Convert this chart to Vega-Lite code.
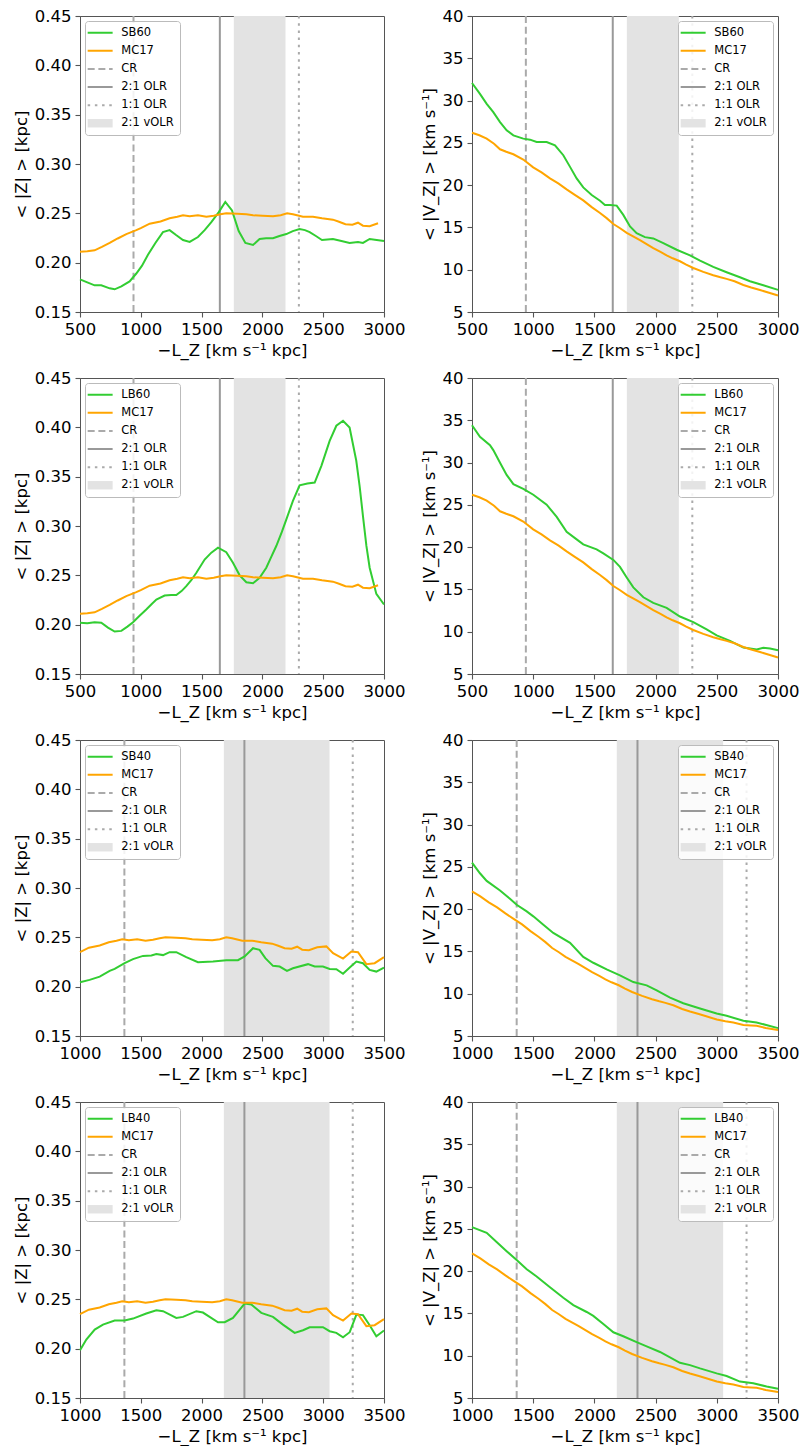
{
  "$schema": "https://vega.github.io/schema/vega-lite/v6.json",
  "background": "white",
  "padding": {"left": 12, "top": 7, "right": 5, "bottom": 5},
  "datasets": {
    "res": [
      {"set": "60", "s": "CR", "x": 940},
      {"set": "60", "s": "2:1 OLR", "x": 1650},
      {"set": "60", "s": "1:1 OLR", "x": 2300},
      {"set": "60", "s": "2:1 vOLR", "x": 1765, "x2": 2190},
      {"set": "40", "s": "CR", "x": 1365},
      {"set": "40", "s": "2:1 OLR", "x": 2352},
      {"set": "40", "s": "1:1 OLR", "x": 3243},
      {"set": "40", "s": "2:1 vOLR", "x": 2183, "x2": 3052}
    ],
    "z": [
      {"s":"SB60","x":500,"y":0.183},{"s":"SB60","x":560,"y":0.180},{"s":"SB60","x":620,"y":0.177},{"s":"SB60","x":675,"y":0.177},{"s":"SB60","x":744,"y":0.174},{"s":"SB60","x":785,"y":0.173},{"s":"SB60","x":840,"y":0.176},{"s":"SB60","x":908,"y":0.181},{"s":"SB60","x":963,"y":0.189},{"s":"SB60","x":1010,"y":0.197},{"s":"SB60","x":1059,"y":0.208},{"s":"SB60","x":1120,"y":0.220},{"s":"SB60","x":1182,"y":0.231},{"s":"SB60","x":1237,"y":0.233},{"s":"SB60","x":1290,"y":0.228},{"s":"SB60","x":1347,"y":0.223},{"s":"SB60","x":1402,"y":0.221},{"s":"SB60","x":1470,"y":0.226},{"s":"SB60","x":1525,"y":0.233},{"s":"SB60","x":1580,"y":0.241},{"s":"SB60","x":1640,"y":0.251},{"s":"SB60","x":1695,"y":0.2615},{"s":"SB60","x":1750,"y":0.253},{"s":"SB60","x":1805,"y":0.232},{"s":"SB60","x":1860,"y":0.220},{"s":"SB60","x":1923,"y":0.218},{"s":"SB60","x":1977,"y":0.224},{"s":"SB60","x":2030,"y":0.2247},{"s":"SB60","x":2087,"y":0.2247},{"s":"SB60","x":2140,"y":0.227},{"s":"SB60","x":2197,"y":0.229},{"s":"SB60","x":2250,"y":0.232},{"s":"SB60","x":2306,"y":0.234},{"s":"SB60","x":2350,"y":0.233},{"s":"SB60","x":2389,"y":0.231},{"s":"SB60","x":2440,"y":0.227},{"s":"SB60","x":2490,"y":0.223},{"s":"SB60","x":2535,"y":0.2235},{"s":"SB60","x":2580,"y":0.224},{"s":"SB60","x":2650,"y":0.222},{"s":"SB60","x":2717,"y":0.220},{"s":"SB60","x":2786,"y":0.221},{"s":"SB60","x":2827,"y":0.220},{"s":"SB60","x":2882,"y":0.224},{"s":"SB60","x":2940,"y":0.223},{"s":"SB60","x":3000,"y":0.222},
      {"s":"LB60","x":500,"y":0.202},{"s":"LB60","x":560,"y":0.2015},{"s":"LB60","x":620,"y":0.2025},{"s":"LB60","x":675,"y":0.202},{"s":"LB60","x":730,"y":0.197},{"s":"LB60","x":785,"y":0.193},{"s":"LB60","x":840,"y":0.1937},{"s":"LB60","x":890,"y":0.198},{"s":"LB60","x":936,"y":0.2025},{"s":"LB60","x":990,"y":0.209},{"s":"LB60","x":1045,"y":0.2153},{"s":"LB60","x":1090,"y":0.221},{"s":"LB60","x":1128,"y":0.2255},{"s":"LB60","x":1196,"y":0.2295},{"s":"LB60","x":1250,"y":0.230},{"s":"LB60","x":1292,"y":0.230},{"s":"LB60","x":1335,"y":0.234},{"s":"LB60","x":1374,"y":0.239},{"s":"LB60","x":1415,"y":0.245},{"s":"LB60","x":1457,"y":0.2526},{"s":"LB60","x":1525,"y":0.266},{"s":"LB60","x":1580,"y":0.273},{"s":"LB60","x":1635,"y":0.278},{"s":"LB60","x":1703,"y":0.2735},{"s":"LB60","x":1758,"y":0.2627},{"s":"LB60","x":1813,"y":0.250},{"s":"LB60","x":1868,"y":0.243},{"s":"LB60","x":1923,"y":0.242},{"s":"LB60","x":1977,"y":0.2475},{"s":"LB60","x":2032,"y":0.2577},{"s":"LB60","x":2070,"y":0.268},{"s":"LB60","x":2114,"y":0.2797},{"s":"LB60","x":2160,"y":0.294},{"s":"LB60","x":2197,"y":0.3068},{"s":"LB60","x":2251,"y":0.3254},{"s":"LB60","x":2306,"y":0.3413},{"s":"LB60","x":2370,"y":0.343},{"s":"LB60","x":2430,"y":0.344},{"s":"LB60","x":2485,"y":0.361},{"s":"LB60","x":2553,"y":0.3863},{"s":"LB60","x":2608,"y":0.4016},{"s":"LB60","x":2663,"y":0.4067},{"s":"LB60","x":2717,"y":0.3999},{"s":"LB60","x":2772,"y":0.3661},{"s":"LB60","x":2800,"y":0.340},{"s":"LB60","x":2827,"y":0.3101},{"s":"LB60","x":2855,"y":0.280},{"s":"LB60","x":2882,"y":0.2577},{"s":"LB60","x":2937,"y":0.2312},{"s":"LB60","x":3000,"y":0.2204},
      {"s":"SB40","x":1000,"y":0.2045},{"s":"SB40","x":1079,"y":0.2069},{"s":"SB40","x":1162,"y":0.2102},{"s":"SB40","x":1244,"y":0.216},{"s":"SB40","x":1285,"y":0.218},{"s":"SB40","x":1367,"y":0.2238},{"s":"SB40","x":1436,"y":0.2279},{"s":"SB40","x":1518,"y":0.2312},{"s":"SB40","x":1587,"y":0.2316},{"s":"SB40","x":1628,"y":0.233},{"s":"SB40","x":1683,"y":0.232},{"s":"SB40","x":1737,"y":0.235},{"s":"SB40","x":1792,"y":0.235},{"s":"SB40","x":1874,"y":0.2299},{"s":"SB40","x":1970,"y":0.2248},{"s":"SB40","x":2094,"y":0.2255},{"s":"SB40","x":2203,"y":0.2268},{"s":"SB40","x":2299,"y":0.2268},{"s":"SB40","x":2354,"y":0.2306},{"s":"SB40","x":2423,"y":0.239},{"s":"SB40","x":2477,"y":0.2373},{"s":"SB40","x":2524,"y":0.2289},{"s":"SB40","x":2587,"y":0.2211},{"s":"SB40","x":2642,"y":0.2204},{"s":"SB40","x":2702,"y":0.216},{"s":"SB40","x":2751,"y":0.2187},{"s":"SB40","x":2875,"y":0.2228},{"s":"SB40","x":2930,"y":0.2204},{"s":"SB40","x":2998,"y":0.2204},{"s":"SB40","x":3053,"y":0.218},{"s":"SB40","x":3108,"y":0.2177},{"s":"SB40","x":3163,"y":0.213},{"s":"SB40","x":3218,"y":0.2194},{"s":"SB40","x":3273,"y":0.2255},{"s":"SB40","x":3327,"y":0.2238},{"s":"SB40","x":3382,"y":0.217},{"s":"SB40","x":3437,"y":0.2153},{"s":"SB40","x":3500,"y":0.2194},
      {"s":"LB40","x":1000,"y":0.1984},{"s":"LB40","x":1052,"y":0.2092},{"s":"LB40","x":1121,"y":0.2194},{"s":"LB40","x":1189,"y":0.2244},{"s":"LB40","x":1285,"y":0.2285},{"s":"LB40","x":1367,"y":0.2285},{"s":"LB40","x":1436,"y":0.2305},{"s":"LB40","x":1545,"y":0.2356},{"s":"LB40","x":1628,"y":0.239},{"s":"LB40","x":1683,"y":0.238},{"s":"LB40","x":1792,"y":0.2312},{"s":"LB40","x":1847,"y":0.2322},{"s":"LB40","x":1957,"y":0.238},{"s":"LB40","x":2011,"y":0.2366},{"s":"LB40","x":2135,"y":0.2268},{"s":"LB40","x":2190,"y":0.2268},{"s":"LB40","x":2258,"y":0.2312},{"s":"LB40","x":2354,"y":0.2457},{"s":"LB40","x":2409,"y":0.2447},{"s":"LB40","x":2491,"y":0.2363},{"s":"LB40","x":2587,"y":0.2322},{"s":"LB40","x":2669,"y":0.2244},{"s":"LB40","x":2765,"y":0.216},{"s":"LB40","x":2834,"y":0.2187},{"s":"LB40","x":2889,"y":0.2217},{"s":"LB40","x":2998,"y":0.2217},{"s":"LB40","x":3053,"y":0.2177},{"s":"LB40","x":3108,"y":0.216},{"s":"LB40","x":3163,"y":0.2116},{"s":"LB40","x":3218,"y":0.2167},{"s":"LB40","x":3273,"y":0.2346},{"s":"LB40","x":3327,"y":0.234},{"s":"LB40","x":3382,"y":0.2238},{"s":"LB40","x":3437,"y":0.2126},{"s":"LB40","x":3500,"y":0.2184},
      {"s":"MC17","x":500,"y":0.211},{"s":"MC17","x":560,"y":0.2115},{"s":"MC17","x":620,"y":0.2125},{"s":"MC17","x":680,"y":0.216},{"s":"MC17","x":744,"y":0.220},{"s":"MC17","x":810,"y":0.2245},{"s":"MC17","x":881,"y":0.229},{"s":"MC17","x":963,"y":0.233},{"s":"MC17","x":1000,"y":0.235},{"s":"MC17","x":1073,"y":0.2395},{"s":"MC17","x":1162,"y":0.2417},{"s":"MC17","x":1237,"y":0.245},{"s":"MC17","x":1300,"y":0.2465},{"s":"MC17","x":1347,"y":0.248},{"s":"MC17","x":1402,"y":0.247},{"s":"MC17","x":1470,"y":0.248},{"s":"MC17","x":1539,"y":0.2465},{"s":"MC17","x":1600,"y":0.2475},{"s":"MC17","x":1655,"y":0.249},{"s":"MC17","x":1703,"y":0.250},{"s":"MC17","x":1792,"y":0.2495},{"s":"MC17","x":1868,"y":0.249},{"s":"MC17","x":1923,"y":0.248},{"s":"MC17","x":2000,"y":0.2475},{"s":"MC17","x":2087,"y":0.247},{"s":"MC17","x":2150,"y":0.248},{"s":"MC17","x":2203,"y":0.250},{"s":"MC17","x":2251,"y":0.249},{"s":"MC17","x":2334,"y":0.2466},{"s":"MC17","x":2416,"y":0.2466},{"s":"MC17","x":2490,"y":0.245},{"s":"MC17","x":2580,"y":0.2436},{"s":"MC17","x":2630,"y":0.2415},{"s":"MC17","x":2683,"y":0.239},{"s":"MC17","x":2740,"y":0.2385},{"s":"MC17","x":2786,"y":0.2405},{"s":"MC17","x":2827,"y":0.2375},{"s":"MC17","x":2882,"y":0.237},{"s":"MC17","x":2951,"y":0.240},{"s":"MC17","x":3026,"y":0.2408},{"s":"MC17","x":3081,"y":0.234},{"s":"MC17","x":3163,"y":0.2285},{"s":"MC17","x":3232,"y":0.2357},{"s":"MC17","x":3286,"y":0.235},{"s":"MC17","x":3355,"y":0.2228},{"s":"MC17","x":3423,"y":0.2238},{"s":"MC17","x":3500,"y":0.2299}
    ],
    "vz": [
      {"s":"SB60","x":500,"y":32.08},{"s":"SB60","x":565,"y":30.79},{"s":"SB60","x":620,"y":29.61},{"s":"SB60","x":674,"y":28.63},{"s":"SB60","x":729,"y":27.46},{"s":"SB60","x":783,"y":26.48},{"s":"SB60","x":838,"y":25.89},{"s":"SB60","x":919,"y":25.5},{"s":"SB60","x":974,"y":25.38},{"s":"SB60","x":1028,"y":25.1},{"s":"SB60","x":1110,"y":25.1},{"s":"SB60","x":1178,"y":24.71},{"s":"SB60","x":1246,"y":23.54},{"s":"SB60","x":1301,"y":22.16},{"s":"SB60","x":1355,"y":20.79},{"s":"SB60","x":1409,"y":19.73},{"s":"SB60","x":1478,"y":18.83},{"s":"SB60","x":1546,"y":18.16},{"s":"SB60","x":1586,"y":17.66},{"s":"SB60","x":1627,"y":17.66},{"s":"SB60","x":1682,"y":17.58},{"s":"SB60","x":1736,"y":16.48},{"s":"SB60","x":1791,"y":15.11},{"s":"SB60","x":1845,"y":14.32},{"s":"SB60","x":1913,"y":13.85},{"s":"SB60","x":1981,"y":13.7},{"s":"SB60","x":2063,"y":13.15},{"s":"SB60","x":2172,"y":12.36},{"s":"SB60","x":2281,"y":11.7},{"s":"SB60","x":2363,"y":11.07},{"s":"SB60","x":2471,"y":10.33},{"s":"SB60","x":2580,"y":9.7},{"s":"SB60","x":2689,"y":9.11},{"s":"SB60","x":2771,"y":8.64},{"s":"SB60","x":2880,"y":8.17},{"s":"SB60","x":3000,"y":7.62},
      {"s":"LB60","x":500,"y":34.41},{"s":"LB60","x":565,"y":33.04},{"s":"LB60","x":647,"y":32.06},{"s":"LB60","x":674,"y":31.47},{"s":"LB60","x":729,"y":29.99},{"s":"LB60","x":783,"y":28.54},{"s":"LB60","x":838,"y":27.45},{"s":"LB60","x":919,"y":26.9},{"s":"LB60","x":1001,"y":26.2},{"s":"LB60","x":1110,"y":25.02},{"s":"LB60","x":1192,"y":23.57},{"s":"LB60","x":1273,"y":21.81},{"s":"LB60","x":1355,"y":20.92},{"s":"LB60","x":1409,"y":20.33},{"s":"LB60","x":1518,"y":19.74},{"s":"LB60","x":1573,"y":19.27},{"s":"LB60","x":1655,"y":18.49},{"s":"LB60","x":1709,"y":17.67},{"s":"LB60","x":1764,"y":16.42},{"s":"LB60","x":1818,"y":15.24},{"s":"LB60","x":1900,"y":14.07},{"s":"LB60","x":1981,"y":13.41},{"s":"LB60","x":2090,"y":12.82},{"s":"LB60","x":2199,"y":11.8},{"s":"LB60","x":2308,"y":11.14},{"s":"LB60","x":2417,"y":10.28},{"s":"LB60","x":2499,"y":9.57},{"s":"LB60","x":2608,"y":8.91},{"s":"LB60","x":2717,"y":8.13},{"s":"LB60","x":2826,"y":7.89},{"s":"LB60","x":2880,"y":8.09},{"s":"LB60","x":2935,"y":8.01},{"s":"LB60","x":3000,"y":7.81},
      {"s":"SB40","x":1000,"y":25.5},{"s":"SB40","x":1065,"y":24.24},{"s":"SB40","x":1120,"y":23.34},{"s":"SB40","x":1229,"y":22.2},{"s":"SB40","x":1310,"y":21.22},{"s":"SB40","x":1365,"y":20.52},{"s":"SB40","x":1447,"y":19.73},{"s":"SB40","x":1501,"y":19.15},{"s":"SB40","x":1583,"y":18.16},{"s":"SB40","x":1664,"y":17.19},{"s":"SB40","x":1801,"y":16.01},{"s":"SB40","x":1909,"y":14.36},{"s":"SB40","x":1991,"y":13.66},{"s":"SB40","x":2100,"y":12.87},{"s":"SB40","x":2209,"y":12.17},{"s":"SB40","x":2318,"y":11.38},{"s":"SB40","x":2427,"y":10.99},{"s":"SB40","x":2509,"y":10.4},{"s":"SB40","x":2618,"y":9.54},{"s":"SB40","x":2726,"y":8.88},{"s":"SB40","x":2863,"y":8.25},{"s":"SB40","x":2999,"y":7.66},{"s":"SB40","x":3080,"y":7.39},{"s":"SB40","x":3217,"y":6.8},{"s":"SB40","x":3325,"y":6.6},{"s":"SB40","x":3500,"y":5.93},
      {"s":"LB40","x":1000,"y":25.2},{"s":"LB40","x":1120,"y":24.54},{"s":"LB40","x":1201,"y":23.45},{"s":"LB40","x":1283,"y":22.36},{"s":"LB40","x":1365,"y":21.31},{"s":"LB40","x":1447,"y":20.23},{"s":"LB40","x":1528,"y":19.37},{"s":"LB40","x":1637,"y":18.09},{"s":"LB40","x":1746,"y":16.85},{"s":"LB40","x":1828,"y":15.99},{"s":"LB40","x":1937,"y":15.17},{"s":"LB40","x":1991,"y":14.71},{"s":"LB40","x":2073,"y":13.74},{"s":"LB40","x":2155,"y":12.77},{"s":"LB40","x":2236,"y":12.3},{"s":"LB40","x":2345,"y":11.6},{"s":"LB40","x":2427,"y":11.1},{"s":"LB40","x":2536,"y":10.44},{"s":"LB40","x":2699,"y":9.16},{"s":"LB40","x":2781,"y":8.89},{"s":"LB40","x":2863,"y":8.5},{"s":"LB40","x":2999,"y":7.91},{"s":"LB40","x":3080,"y":7.6},{"s":"LB40","x":3189,"y":6.94},{"s":"LB40","x":3298,"y":6.75},{"s":"LB40","x":3407,"y":6.36},{"s":"LB40","x":3500,"y":6.09},
      {"s":"MC17","x":500,"y":26.2},{"s":"MC17","x":560,"y":25.9},{"s":"MC17","x":620,"y":25.5},{"s":"MC17","x":680,"y":24.9},{"s":"MC17","x":729,"y":24.24},{"s":"MC17","x":780,"y":23.95},{"s":"MC17","x":838,"y":23.65},{"s":"MC17","x":919,"y":23.03},{"s":"MC17","x":1000,"y":22.1},{"s":"MC17","x":1068,"y":21.5},{"s":"MC17","x":1137,"y":20.8},{"s":"MC17","x":1205,"y":20.2},{"s":"MC17","x":1273,"y":19.5},{"s":"MC17","x":1340,"y":18.85},{"s":"MC17","x":1409,"y":18.2},{"s":"MC17","x":1478,"y":17.4},{"s":"MC17","x":1546,"y":16.7},{"s":"MC17","x":1600,"y":16.1},{"s":"MC17","x":1655,"y":15.4},{"s":"MC17","x":1710,"y":14.9},{"s":"MC17","x":1764,"y":14.35},{"s":"MC17","x":1820,"y":13.9},{"s":"MC17","x":1872,"y":13.5},{"s":"MC17","x":1930,"y":13.0},{"s":"MC17","x":1981,"y":12.55},{"s":"MC17","x":2040,"y":12.1},{"s":"MC17","x":2090,"y":11.7},{"s":"MC17","x":2140,"y":11.35},{"s":"MC17","x":2199,"y":11.0},{"s":"MC17","x":2250,"y":10.6},{"s":"MC17","x":2308,"y":10.2},{"s":"MC17","x":2390,"y":9.75},{"s":"MC17","x":2471,"y":9.35},{"s":"MC17","x":2530,"y":9.1},{"s":"MC17","x":2580,"y":8.92},{"s":"MC17","x":2645,"y":8.64},{"s":"MC17","x":2717,"y":8.2},{"s":"MC17","x":2781,"y":7.9},{"s":"MC17","x":2853,"y":7.6},{"s":"MC17","x":2920,"y":7.3},{"s":"MC17","x":3000,"y":6.95},{"s":"MC17","x":3070,"y":6.75},{"s":"MC17","x":3135,"y":6.6},{"s":"MC17","x":3217,"y":6.3},{"s":"MC17","x":3280,"y":6.25},{"s":"MC17","x":3325,"y":6.2},{"s":"MC17","x":3400,"y":5.95},{"s":"MC17","x":3500,"y":5.7}
    ]
  },
  "columns": 2,
  "spacing": {"row": 66, "column": 88},
  "bounds": "flush",
  "resolve": {"scale": {"color": "independent", "strokeDash": "independent", "x": "independent", "y": "independent"}, "axis": {"x": "independent", "y": "independent"}, "legend": {"color": "independent", "strokeDash": "independent"}},
  "concat": [
    {
      "width": 304, "height": 296,
      "layer": [
        {"data": {"name": "res"}, "transform": [{"filter": "datum.set == '60' && datum.s == '2:1 vOLR'"}], "mark": {"type": "rect"}, "encoding": {"x": {"field": "x", "type": "quantitative", "scale": {"domain": [500, 3000], "nice": false}}, "x2": {"field": "x2"}, "color": {"field": "s", "type": "nominal"}}},
        {"data": {"name": "res"}, "transform": [{"filter": "datum.set == '60' && datum.s != '2:1 vOLR'"}], "mark": {"type": "rule", "strokeWidth": 2}, "encoding": {"x": {"field": "x", "type": "quantitative", "scale": {"domain": [500, 3000], "nice": false}}, "color": {"field": "s", "type": "nominal"}, "strokeDash": {"field": "s", "type": "nominal", "legend": null, "scale": {"domain": ["CR", "2:1 OLR", "1:1 OLR"], "range": [[7, 3.7], [1, 0], [2.5, 4.7]]}}}},
        {"data": {"name": "z"}, "transform": [{"filter": "(datum.s == 'SB60' || datum.s == 'MC17') && datum.x >= 500 && datum.x <= 3000"}], "mark": {"type": "line", "strokeWidth": 2},
          "encoding": {
            "x": {"field": "x", "type": "quantitative", "scale": {"domain": [500, 3000], "nice": false}, "axis": {"values": [500, 1000, 1500, 2000, 2500, 3000], "format": "d", "title": "−L_Z [km s⁻¹ kpc]"}},
            "y": {"field": "y", "type": "quantitative", "scale": {"domain": [0.15, 0.45], "nice": false, "zero": false}, "axis": {"values": [0.15, 0.2, 0.25, 0.3, 0.35, 0.4, 0.45], "format": ".2f", "title": "< |Z| >  [kpc]"}},
            "color": {"field": "s", "type": "nominal", "scale": {"domain": ["SB60", "MC17", "CR", "2:1 OLR", "1:1 OLR", "2:1 vOLR"], "range": ["#32cd32", "#ffa500", "#aaaaaa", "#999999", "#aaaaaa", "#e3e3e3"]},
              "legend": {"title": null, "orient": "top-left", "encode": {"symbols": {"update": {"shape": {"signal": "datum.value === '2:1 vOLR' ? 'M-2.08,-0.7H2.08V0.7H-2.08Z' : 'M-2.08,0H2.08'"}, "fill": {"signal": "datum.value === '2:1 vOLR' ? '#e3e3e3' : 'transparent'"}, "stroke": {"signal": "datum.value === 'MC17' ? '#ffa500' : datum.value === 'CR' ? '#aaaaaa' : datum.value === '2:1 OLR' ? '#999999' : datum.value === '1:1 OLR' ? '#aaaaaa' : datum.value === '2:1 vOLR' ? '#e3e3e3' : '#32cd32'"}, "strokeWidth": {"signal": "datum.value === '2:1 vOLR' ? 0 : 2"}, "strokeDash": {"signal": "datum.value === 'CR' ? [7, 3.7] : datum.value === '1:1 OLR' ? [2.5, 4.7] : [1, 0]"}, "opacity": {"value": 1}}}}}}
          }
        }
      ]
    },
    {
      "width": 306, "height": 296,
      "layer": [
        {"data": {"name": "res"}, "transform": [{"filter": "datum.set == '60' && datum.s == '2:1 vOLR'"}], "mark": {"type": "rect"}, "encoding": {"x": {"field": "x", "type": "quantitative", "scale": {"domain": [500, 3000], "nice": false}}, "x2": {"field": "x2"}, "color": {"field": "s", "type": "nominal"}}},
        {"data": {"name": "res"}, "transform": [{"filter": "datum.set == '60' && datum.s != '2:1 vOLR'"}], "mark": {"type": "rule", "strokeWidth": 2}, "encoding": {"x": {"field": "x", "type": "quantitative", "scale": {"domain": [500, 3000], "nice": false}}, "color": {"field": "s", "type": "nominal"}, "strokeDash": {"field": "s", "type": "nominal", "legend": null, "scale": {"domain": ["CR", "2:1 OLR", "1:1 OLR"], "range": [[7, 3.7], [1, 0], [2.5, 4.7]]}}}},
        {"data": {"name": "vz"}, "transform": [{"filter": "(datum.s == 'SB60' || datum.s == 'MC17') && datum.x >= 500 && datum.x <= 3000"}], "mark": {"type": "line", "strokeWidth": 2},
          "encoding": {
            "x": {"field": "x", "type": "quantitative", "scale": {"domain": [500, 3000], "nice": false}, "axis": {"values": [500, 1000, 1500, 2000, 2500, 3000], "format": "d", "title": "−L_Z [km s⁻¹ kpc]"}},
            "y": {"field": "y", "type": "quantitative", "scale": {"domain": [5, 40], "nice": false, "zero": false}, "axis": {"values": [5, 10, 15, 20, 25, 30, 35, 40], "format": "d", "title": "< |V_Z| >  [km s⁻¹]"}},
            "color": {"field": "s", "type": "nominal", "scale": {"domain": ["SB60", "MC17", "CR", "2:1 OLR", "1:1 OLR", "2:1 vOLR"], "range": ["#32cd32", "#ffa500", "#aaaaaa", "#999999", "#aaaaaa", "#e3e3e3"]},
              "legend": {"title": null, "orient": "top-right", "encode": {"symbols": {"update": {"shape": {"signal": "datum.value === '2:1 vOLR' ? 'M-2.08,-0.7H2.08V0.7H-2.08Z' : 'M-2.08,0H2.08'"}, "fill": {"signal": "datum.value === '2:1 vOLR' ? '#e3e3e3' : 'transparent'"}, "stroke": {"signal": "datum.value === 'MC17' ? '#ffa500' : datum.value === 'CR' ? '#aaaaaa' : datum.value === '2:1 OLR' ? '#999999' : datum.value === '1:1 OLR' ? '#aaaaaa' : datum.value === '2:1 vOLR' ? '#e3e3e3' : '#32cd32'"}, "strokeWidth": {"signal": "datum.value === '2:1 vOLR' ? 0 : 2"}, "strokeDash": {"signal": "datum.value === 'CR' ? [7, 3.7] : datum.value === '1:1 OLR' ? [2.5, 4.7] : [1, 0]"}, "opacity": {"value": 1}}}}}}
          }
        }
      ]
    },
    {
      "width": 304, "height": 296,
      "layer": [
        {"data": {"name": "res"}, "transform": [{"filter": "datum.set == '60' && datum.s == '2:1 vOLR'"}], "mark": {"type": "rect"}, "encoding": {"x": {"field": "x", "type": "quantitative", "scale": {"domain": [500, 3000], "nice": false}}, "x2": {"field": "x2"}, "color": {"field": "s", "type": "nominal"}}},
        {"data": {"name": "res"}, "transform": [{"filter": "datum.set == '60' && datum.s != '2:1 vOLR'"}], "mark": {"type": "rule", "strokeWidth": 2}, "encoding": {"x": {"field": "x", "type": "quantitative", "scale": {"domain": [500, 3000], "nice": false}}, "color": {"field": "s", "type": "nominal"}, "strokeDash": {"field": "s", "type": "nominal", "legend": null, "scale": {"domain": ["CR", "2:1 OLR", "1:1 OLR"], "range": [[7, 3.7], [1, 0], [2.5, 4.7]]}}}},
        {"data": {"name": "z"}, "transform": [{"filter": "(datum.s == 'LB60' || datum.s == 'MC17') && datum.x >= 500 && datum.x <= 3000"}], "mark": {"type": "line", "strokeWidth": 2},
          "encoding": {
            "x": {"field": "x", "type": "quantitative", "scale": {"domain": [500, 3000], "nice": false}, "axis": {"values": [500, 1000, 1500, 2000, 2500, 3000], "format": "d", "title": "−L_Z [km s⁻¹ kpc]"}},
            "y": {"field": "y", "type": "quantitative", "scale": {"domain": [0.15, 0.45], "nice": false, "zero": false}, "axis": {"values": [0.15, 0.2, 0.25, 0.3, 0.35, 0.4, 0.45], "format": ".2f", "title": "< |Z| >  [kpc]"}},
            "color": {"field": "s", "type": "nominal", "scale": {"domain": ["LB60", "MC17", "CR", "2:1 OLR", "1:1 OLR", "2:1 vOLR"], "range": ["#32cd32", "#ffa500", "#aaaaaa", "#999999", "#aaaaaa", "#e3e3e3"]},
              "legend": {"title": null, "orient": "top-left", "encode": {"symbols": {"update": {"shape": {"signal": "datum.value === '2:1 vOLR' ? 'M-2.08,-0.7H2.08V0.7H-2.08Z' : 'M-2.08,0H2.08'"}, "fill": {"signal": "datum.value === '2:1 vOLR' ? '#e3e3e3' : 'transparent'"}, "stroke": {"signal": "datum.value === 'MC17' ? '#ffa500' : datum.value === 'CR' ? '#aaaaaa' : datum.value === '2:1 OLR' ? '#999999' : datum.value === '1:1 OLR' ? '#aaaaaa' : datum.value === '2:1 vOLR' ? '#e3e3e3' : '#32cd32'"}, "strokeWidth": {"signal": "datum.value === '2:1 vOLR' ? 0 : 2"}, "strokeDash": {"signal": "datum.value === 'CR' ? [7, 3.7] : datum.value === '1:1 OLR' ? [2.5, 4.7] : [1, 0]"}, "opacity": {"value": 1}}}}}}
          }
        }
      ]
    },
    {
      "width": 306, "height": 296,
      "layer": [
        {"data": {"name": "res"}, "transform": [{"filter": "datum.set == '60' && datum.s == '2:1 vOLR'"}], "mark": {"type": "rect"}, "encoding": {"x": {"field": "x", "type": "quantitative", "scale": {"domain": [500, 3000], "nice": false}}, "x2": {"field": "x2"}, "color": {"field": "s", "type": "nominal"}}},
        {"data": {"name": "res"}, "transform": [{"filter": "datum.set == '60' && datum.s != '2:1 vOLR'"}], "mark": {"type": "rule", "strokeWidth": 2}, "encoding": {"x": {"field": "x", "type": "quantitative", "scale": {"domain": [500, 3000], "nice": false}}, "color": {"field": "s", "type": "nominal"}, "strokeDash": {"field": "s", "type": "nominal", "legend": null, "scale": {"domain": ["CR", "2:1 OLR", "1:1 OLR"], "range": [[7, 3.7], [1, 0], [2.5, 4.7]]}}}},
        {"data": {"name": "vz"}, "transform": [{"filter": "(datum.s == 'LB60' || datum.s == 'MC17') && datum.x >= 500 && datum.x <= 3000"}], "mark": {"type": "line", "strokeWidth": 2},
          "encoding": {
            "x": {"field": "x", "type": "quantitative", "scale": {"domain": [500, 3000], "nice": false}, "axis": {"values": [500, 1000, 1500, 2000, 2500, 3000], "format": "d", "title": "−L_Z [km s⁻¹ kpc]"}},
            "y": {"field": "y", "type": "quantitative", "scale": {"domain": [5, 40], "nice": false, "zero": false}, "axis": {"values": [5, 10, 15, 20, 25, 30, 35, 40], "format": "d", "title": "< |V_Z| >  [km s⁻¹]"}},
            "color": {"field": "s", "type": "nominal", "scale": {"domain": ["LB60", "MC17", "CR", "2:1 OLR", "1:1 OLR", "2:1 vOLR"], "range": ["#32cd32", "#ffa500", "#aaaaaa", "#999999", "#aaaaaa", "#e3e3e3"]},
              "legend": {"title": null, "orient": "top-right", "encode": {"symbols": {"update": {"shape": {"signal": "datum.value === '2:1 vOLR' ? 'M-2.08,-0.7H2.08V0.7H-2.08Z' : 'M-2.08,0H2.08'"}, "fill": {"signal": "datum.value === '2:1 vOLR' ? '#e3e3e3' : 'transparent'"}, "stroke": {"signal": "datum.value === 'MC17' ? '#ffa500' : datum.value === 'CR' ? '#aaaaaa' : datum.value === '2:1 OLR' ? '#999999' : datum.value === '1:1 OLR' ? '#aaaaaa' : datum.value === '2:1 vOLR' ? '#e3e3e3' : '#32cd32'"}, "strokeWidth": {"signal": "datum.value === '2:1 vOLR' ? 0 : 2"}, "strokeDash": {"signal": "datum.value === 'CR' ? [7, 3.7] : datum.value === '1:1 OLR' ? [2.5, 4.7] : [1, 0]"}, "opacity": {"value": 1}}}}}}
          }
        }
      ]
    },
    {
      "width": 304, "height": 296,
      "layer": [
        {"data": {"name": "res"}, "transform": [{"filter": "datum.set == '40' && datum.s == '2:1 vOLR'"}], "mark": {"type": "rect"}, "encoding": {"x": {"field": "x", "type": "quantitative", "scale": {"domain": [1000, 3500], "nice": false}}, "x2": {"field": "x2"}, "color": {"field": "s", "type": "nominal"}}},
        {"data": {"name": "res"}, "transform": [{"filter": "datum.set == '40' && datum.s != '2:1 vOLR'"}], "mark": {"type": "rule", "strokeWidth": 2}, "encoding": {"x": {"field": "x", "type": "quantitative", "scale": {"domain": [1000, 3500], "nice": false}}, "color": {"field": "s", "type": "nominal"}, "strokeDash": {"field": "s", "type": "nominal", "legend": null, "scale": {"domain": ["CR", "2:1 OLR", "1:1 OLR"], "range": [[7, 3.7], [1, 0], [2.5, 4.7]]}}}},
        {"data": {"name": "z"}, "transform": [{"filter": "(datum.s == 'SB40' || datum.s == 'MC17') && datum.x >= 1000 && datum.x <= 3500"}], "mark": {"type": "line", "strokeWidth": 2},
          "encoding": {
            "x": {"field": "x", "type": "quantitative", "scale": {"domain": [1000, 3500], "nice": false}, "axis": {"values": [1000, 1500, 2000, 2500, 3000, 3500], "format": "d", "title": "−L_Z [km s⁻¹ kpc]"}},
            "y": {"field": "y", "type": "quantitative", "scale": {"domain": [0.15, 0.45], "nice": false, "zero": false}, "axis": {"values": [0.15, 0.2, 0.25, 0.3, 0.35, 0.4, 0.45], "format": ".2f", "title": "< |Z| >  [kpc]"}},
            "color": {"field": "s", "type": "nominal", "scale": {"domain": ["SB40", "MC17", "CR", "2:1 OLR", "1:1 OLR", "2:1 vOLR"], "range": ["#32cd32", "#ffa500", "#aaaaaa", "#999999", "#aaaaaa", "#e3e3e3"]},
              "legend": {"title": null, "orient": "top-left", "encode": {"symbols": {"update": {"shape": {"signal": "datum.value === '2:1 vOLR' ? 'M-2.08,-0.7H2.08V0.7H-2.08Z' : 'M-2.08,0H2.08'"}, "fill": {"signal": "datum.value === '2:1 vOLR' ? '#e3e3e3' : 'transparent'"}, "stroke": {"signal": "datum.value === 'MC17' ? '#ffa500' : datum.value === 'CR' ? '#aaaaaa' : datum.value === '2:1 OLR' ? '#999999' : datum.value === '1:1 OLR' ? '#aaaaaa' : datum.value === '2:1 vOLR' ? '#e3e3e3' : '#32cd32'"}, "strokeWidth": {"signal": "datum.value === '2:1 vOLR' ? 0 : 2"}, "strokeDash": {"signal": "datum.value === 'CR' ? [7, 3.7] : datum.value === '1:1 OLR' ? [2.5, 4.7] : [1, 0]"}, "opacity": {"value": 1}}}}}}
          }
        }
      ]
    },
    {
      "width": 306, "height": 296,
      "layer": [
        {"data": {"name": "res"}, "transform": [{"filter": "datum.set == '40' && datum.s == '2:1 vOLR'"}], "mark": {"type": "rect"}, "encoding": {"x": {"field": "x", "type": "quantitative", "scale": {"domain": [1000, 3500], "nice": false}}, "x2": {"field": "x2"}, "color": {"field": "s", "type": "nominal"}}},
        {"data": {"name": "res"}, "transform": [{"filter": "datum.set == '40' && datum.s != '2:1 vOLR'"}], "mark": {"type": "rule", "strokeWidth": 2}, "encoding": {"x": {"field": "x", "type": "quantitative", "scale": {"domain": [1000, 3500], "nice": false}}, "color": {"field": "s", "type": "nominal"}, "strokeDash": {"field": "s", "type": "nominal", "legend": null, "scale": {"domain": ["CR", "2:1 OLR", "1:1 OLR"], "range": [[7, 3.7], [1, 0], [2.5, 4.7]]}}}},
        {"data": {"name": "vz"}, "transform": [{"filter": "(datum.s == 'SB40' || datum.s == 'MC17') && datum.x >= 1000 && datum.x <= 3500"}], "mark": {"type": "line", "strokeWidth": 2},
          "encoding": {
            "x": {"field": "x", "type": "quantitative", "scale": {"domain": [1000, 3500], "nice": false}, "axis": {"values": [1000, 1500, 2000, 2500, 3000, 3500], "format": "d", "title": "−L_Z [km s⁻¹ kpc]"}},
            "y": {"field": "y", "type": "quantitative", "scale": {"domain": [5, 40], "nice": false, "zero": false}, "axis": {"values": [5, 10, 15, 20, 25, 30, 35, 40], "format": "d", "title": "< |V_Z| >  [km s⁻¹]"}},
            "color": {"field": "s", "type": "nominal", "scale": {"domain": ["SB40", "MC17", "CR", "2:1 OLR", "1:1 OLR", "2:1 vOLR"], "range": ["#32cd32", "#ffa500", "#aaaaaa", "#999999", "#aaaaaa", "#e3e3e3"]},
              "legend": {"title": null, "orient": "top-right", "encode": {"symbols": {"update": {"shape": {"signal": "datum.value === '2:1 vOLR' ? 'M-2.08,-0.7H2.08V0.7H-2.08Z' : 'M-2.08,0H2.08'"}, "fill": {"signal": "datum.value === '2:1 vOLR' ? '#e3e3e3' : 'transparent'"}, "stroke": {"signal": "datum.value === 'MC17' ? '#ffa500' : datum.value === 'CR' ? '#aaaaaa' : datum.value === '2:1 OLR' ? '#999999' : datum.value === '1:1 OLR' ? '#aaaaaa' : datum.value === '2:1 vOLR' ? '#e3e3e3' : '#32cd32'"}, "strokeWidth": {"signal": "datum.value === '2:1 vOLR' ? 0 : 2"}, "strokeDash": {"signal": "datum.value === 'CR' ? [7, 3.7] : datum.value === '1:1 OLR' ? [2.5, 4.7] : [1, 0]"}, "opacity": {"value": 1}}}}}}
          }
        }
      ]
    },
    {
      "width": 304, "height": 296,
      "layer": [
        {"data": {"name": "res"}, "transform": [{"filter": "datum.set == '40' && datum.s == '2:1 vOLR'"}], "mark": {"type": "rect"}, "encoding": {"x": {"field": "x", "type": "quantitative", "scale": {"domain": [1000, 3500], "nice": false}}, "x2": {"field": "x2"}, "color": {"field": "s", "type": "nominal"}}},
        {"data": {"name": "res"}, "transform": [{"filter": "datum.set == '40' && datum.s != '2:1 vOLR'"}], "mark": {"type": "rule", "strokeWidth": 2}, "encoding": {"x": {"field": "x", "type": "quantitative", "scale": {"domain": [1000, 3500], "nice": false}}, "color": {"field": "s", "type": "nominal"}, "strokeDash": {"field": "s", "type": "nominal", "legend": null, "scale": {"domain": ["CR", "2:1 OLR", "1:1 OLR"], "range": [[7, 3.7], [1, 0], [2.5, 4.7]]}}}},
        {"data": {"name": "z"}, "transform": [{"filter": "(datum.s == 'LB40' || datum.s == 'MC17') && datum.x >= 1000 && datum.x <= 3500"}], "mark": {"type": "line", "strokeWidth": 2},
          "encoding": {
            "x": {"field": "x", "type": "quantitative", "scale": {"domain": [1000, 3500], "nice": false}, "axis": {"values": [1000, 1500, 2000, 2500, 3000, 3500], "format": "d", "title": "−L_Z [km s⁻¹ kpc]"}},
            "y": {"field": "y", "type": "quantitative", "scale": {"domain": [0.15, 0.45], "nice": false, "zero": false}, "axis": {"values": [0.15, 0.2, 0.25, 0.3, 0.35, 0.4, 0.45], "format": ".2f", "title": "< |Z| >  [kpc]"}},
            "color": {"field": "s", "type": "nominal", "scale": {"domain": ["LB40", "MC17", "CR", "2:1 OLR", "1:1 OLR", "2:1 vOLR"], "range": ["#32cd32", "#ffa500", "#aaaaaa", "#999999", "#aaaaaa", "#e3e3e3"]},
              "legend": {"title": null, "orient": "top-left", "encode": {"symbols": {"update": {"shape": {"signal": "datum.value === '2:1 vOLR' ? 'M-2.08,-0.7H2.08V0.7H-2.08Z' : 'M-2.08,0H2.08'"}, "fill": {"signal": "datum.value === '2:1 vOLR' ? '#e3e3e3' : 'transparent'"}, "stroke": {"signal": "datum.value === 'MC17' ? '#ffa500' : datum.value === 'CR' ? '#aaaaaa' : datum.value === '2:1 OLR' ? '#999999' : datum.value === '1:1 OLR' ? '#aaaaaa' : datum.value === '2:1 vOLR' ? '#e3e3e3' : '#32cd32'"}, "strokeWidth": {"signal": "datum.value === '2:1 vOLR' ? 0 : 2"}, "strokeDash": {"signal": "datum.value === 'CR' ? [7, 3.7] : datum.value === '1:1 OLR' ? [2.5, 4.7] : [1, 0]"}, "opacity": {"value": 1}}}}}}
          }
        }
      ]
    },
    {
      "width": 306, "height": 296,
      "layer": [
        {"data": {"name": "res"}, "transform": [{"filter": "datum.set == '40' && datum.s == '2:1 vOLR'"}], "mark": {"type": "rect"}, "encoding": {"x": {"field": "x", "type": "quantitative", "scale": {"domain": [1000, 3500], "nice": false}}, "x2": {"field": "x2"}, "color": {"field": "s", "type": "nominal"}}},
        {"data": {"name": "res"}, "transform": [{"filter": "datum.set == '40' && datum.s != '2:1 vOLR'"}], "mark": {"type": "rule", "strokeWidth": 2}, "encoding": {"x": {"field": "x", "type": "quantitative", "scale": {"domain": [1000, 3500], "nice": false}}, "color": {"field": "s", "type": "nominal"}, "strokeDash": {"field": "s", "type": "nominal", "legend": null, "scale": {"domain": ["CR", "2:1 OLR", "1:1 OLR"], "range": [[7, 3.7], [1, 0], [2.5, 4.7]]}}}},
        {"data": {"name": "vz"}, "transform": [{"filter": "(datum.s == 'LB40' || datum.s == 'MC17') && datum.x >= 1000 && datum.x <= 3500"}], "mark": {"type": "line", "strokeWidth": 2},
          "encoding": {
            "x": {"field": "x", "type": "quantitative", "scale": {"domain": [1000, 3500], "nice": false}, "axis": {"values": [1000, 1500, 2000, 2500, 3000, 3500], "format": "d", "title": "−L_Z [km s⁻¹ kpc]"}},
            "y": {"field": "y", "type": "quantitative", "scale": {"domain": [5, 40], "nice": false, "zero": false}, "axis": {"values": [5, 10, 15, 20, 25, 30, 35, 40], "format": "d", "title": "< |V_Z| >  [km s⁻¹]"}},
            "color": {"field": "s", "type": "nominal", "scale": {"domain": ["LB40", "MC17", "CR", "2:1 OLR", "1:1 OLR", "2:1 vOLR"], "range": ["#32cd32", "#ffa500", "#aaaaaa", "#999999", "#aaaaaa", "#e3e3e3"]},
              "legend": {"title": null, "orient": "top-right", "encode": {"symbols": {"update": {"shape": {"signal": "datum.value === '2:1 vOLR' ? 'M-2.08,-0.7H2.08V0.7H-2.08Z' : 'M-2.08,0H2.08'"}, "fill": {"signal": "datum.value === '2:1 vOLR' ? '#e3e3e3' : 'transparent'"}, "stroke": {"signal": "datum.value === 'MC17' ? '#ffa500' : datum.value === 'CR' ? '#aaaaaa' : datum.value === '2:1 OLR' ? '#999999' : datum.value === '1:1 OLR' ? '#aaaaaa' : datum.value === '2:1 vOLR' ? '#e3e3e3' : '#32cd32'"}, "strokeWidth": {"signal": "datum.value === '2:1 vOLR' ? 0 : 2"}, "strokeDash": {"signal": "datum.value === 'CR' ? [7, 3.7] : datum.value === '1:1 OLR' ? [2.5, 4.7] : [1, 0]"}, "opacity": {"value": 1}}}}}}
          }
        }
      ]
    }
  ],
  "config": {
    "font": "DejaVu Sans",
    "view": {"stroke": "#555555", "strokeWidth": 1},
    "axis": {"labelFont": "DejaVu Sans", "labelFontSize": 16.5, "labelColor": "black", "titleFont": "DejaVu Sans", "titleFontSize": 16.5, "titleFontWeight": "normal", "titleColor": "black", "tickColor": "#555555", "domainColor": "#555555", "tickSize": 5, "tickWidth": 1.1, "labelPadding": 4, "titlePadding": 5, "grid": false, "labelFlush": false, "labelOverlap": false},
    "legend": {"labelFont": "DejaVu Sans", "labelFontSize": 11.5, "labelColor": "black", "fillColor": "rgba(255,255,255,0.85)", "strokeColor": "#bbbbbb", "cornerRadius": 3, "padding": 6, "offset": 5, "columnPadding": 0, "symbolSize": 144, "symbolOffset": 3.4, "labelOffset": 15.4, "rowPadding": 5.1, "symbolStrokeWidth": 2, "symbolType": "stroke"}
  }
}
